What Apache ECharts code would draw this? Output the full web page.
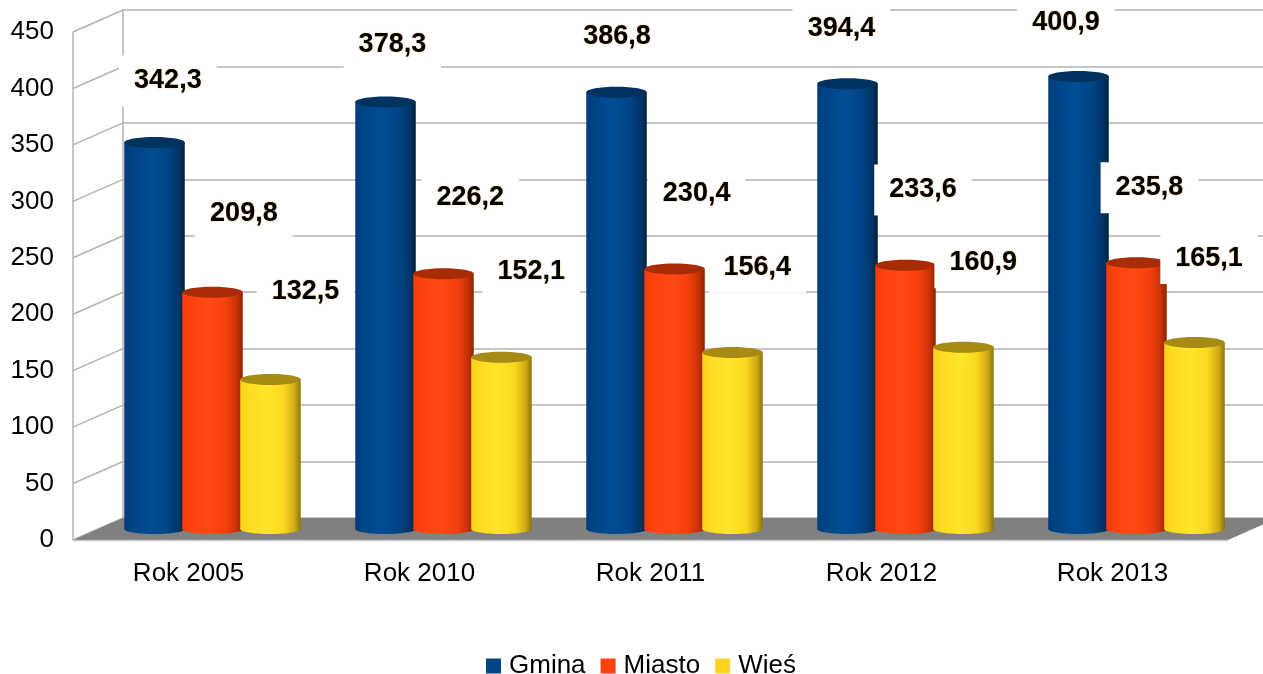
<!DOCTYPE html>
<html>
<head>
<meta charset="utf-8">
<script src="https://cdn.jsdelivr.net/npm/echarts@6/dist/echarts.min.js"></script>
<style>html,body{margin:0;padding:0;background:#fff}#c{width:1263px;height:674px}</style>
</head>
<body>
<div id="c"></div>
<script>
const categories = ['Rok 2005', 'Rok 2010', 'Rok 2011', 'Rok 2012', 'Rok 2013'];
const gmina = [342.3, 378.3, 386.8, 394.4, 400.9];
const miasto = [209.8, 226.2, 230.4, 233.6, 235.8];
const wies = [132.5, 152.1, 156.4, 160.9, 165.1];
const seriesNames = ['Gmina', 'Miasto', 'Wieś'];
const yTicks = [0, 50, 100, 150, 200, 250, 300, 350, 400, 450];

const FONT = 'Liberation Sans, Arial, sans-serif';
const DX = 50, DY = -22;
const GRID_COLOR = '#b3b3b3';

const palettes = [
  { base: '#004586', stops: ['#003d78', '#004586', '#004d94', '#004586', '#003566', '#00223f'], top: '#00325f', lblA: 0, lblB: -0.028 },
  { base: '#ff420e', stops: ['#f23c0c', '#ff420e', '#ff4a14', '#f5400d', '#c73205', '#8f2400'], top: '#a82c05', lblA: 23, lblB: -0.02 },
  { base: '#ffd320', stops: ['#f7cf1f', '#ffdb22', '#ffe52a', '#f9d81f', '#cfa915', '#8d7208'], top: '#a68a14', lblA: 27, lblB: -0.022 }
];

function fmt(v) { return v.toFixed(1).replace('.', ','); }

function cylinder(idx) {
  const pal = palettes[idx];
  return function (params, api) {
    const i = api.value(0), v = api.value(1);
    const band = api.size([1, 0])[0];
    const base = api.coord([i, 0]);
    const top = api.coord([i, v]);
    const W = band * 0.262;
    const cx = base[0] + (idx - 1) * band * 0.251;
    const grad = new echarts.graphic.LinearGradient(0, 0, 1, 0, [
      { offset: 0, color: pal.stops[0] },
      { offset: 0.15, color: pal.stops[1] },
      { offset: 0.45, color: pal.stops[2] },
      { offset: 0.72, color: pal.stops[3] },
      { offset: 0.9, color: pal.stops[4] },
      { offset: 1, color: pal.stops[5] }
    ]);
    const half = api.getWidth() / 2;
    const lx = cx + pal.lblA + (cx - half) * pal.lblB;
    const ly = 424 + (top[1] - base[1]) * 0.8876;
    return {
      type: 'group',
      children: [
        { type: 'ellipse', shape: { cx: cx, cy: base[1], rx: W / 2, ry: 5 }, style: { fill: grad }, z2: idx * 10 },
        { type: 'rect', shape: { x: cx - W / 2, y: top[1], width: W, height: base[1] - top[1] }, style: { fill: grad }, z2: idx * 10 + 1 },
        { type: 'ellipse', shape: { cx: cx, cy: top[1], rx: W / 2, ry: 5.5 }, style: { fill: pal.top }, z2: idx * 10 + 2 },
        {
          type: 'text', x: lx, y: ly, z2: 100,
          style: {
            text: fmt(v), font: 'bold 27px ' + FONT, fill: '#000',
            align: 'center', verticalAlign: 'middle',
            backgroundColor: '#fff', padding: [12, 15],
            textShadowColor: 'rgba(215,125,0,0.7)', textShadowBlur: 1.5
          }
        }
      ]
    };
  };
}

const seriesData = [gmina, miasto, wies];

const chart = echarts.init(document.getElementById('c'), null, { renderer: 'canvas' });
const option = {
  animation: false,
  color: palettes.map(p => p.base),
  textStyle: { fontFamily: FONT },
  legend: {
    data: seriesNames,
    icon: 'rect', itemWidth: 15, itemHeight: 15, itemGap: 15,
    top: 648, left: 481,
    textStyle: { fontSize: 26, color: '#000', fontFamily: FONT, padding: [0, 0, 0, 3] }
  },
  grid: [
    { left: 123, top: 10, width: 1155, height: 508 },
    { left: 73, top: 32, width: 1155, height: 508 },
    { left: 97, top: 21, width: 1155, height: 508 }
  ],
  xAxis: [
    { gridIndex: 0, type: 'category', data: categories, show: false },
    { gridIndex: 1, type: 'category', data: categories,
      axisLine: { show: false }, axisTick: { show: false },
      axisLabel: { fontSize: 26, color: '#000', margin: 21, fontFamily: FONT } },
    { gridIndex: 2, type: 'category', data: categories, show: false }
  ],
  yAxis: [
    { gridIndex: 0, type: 'value', min: 0, max: 450, interval: 50,
      axisLabel: { show: false }, axisTick: { show: false },
      axisLine: { show: true, lineStyle: { color: GRID_COLOR, width: 1.5 } },
      splitLine: { show: true, lineStyle: { color: GRID_COLOR, width: 1.5 } } },
    { gridIndex: 1, type: 'value', min: 0, max: 450, interval: 50,
      axisLabel: { fontSize: 26, color: '#000', margin: 19, fontFamily: FONT },
      axisTick: { show: false },
      axisLine: { show: true, lineStyle: { color: GRID_COLOR, width: 1.5 } },
      splitLine: { show: false } },
    { gridIndex: 2, type: 'value', min: 0, max: 450, show: false, splitLine: { show: false } }
  ],
  series: [
    {
      type: 'custom', name: 'sidewall', xAxisIndex: 1, yAxisIndex: 1, silent: true, z: 1,
      data: yTicks.map(v => [0, v]),
      renderItem: function (params, api) {
        const cs = params.coordSys;
        const p = api.coord([0, api.value(1)]);
        return { type: 'line', shape: { x1: cs.x, y1: p[1], x2: cs.x + DX, y2: p[1] + DY },
          style: { stroke: GRID_COLOR, lineWidth: 1.5 } };
      }
    },
    {
      type: 'custom', name: 'floor', xAxisIndex: 1, yAxisIndex: 1, silent: true, z: 1,
      data: [[0, yTicks[0]]],
      renderItem: function (params, api) {
        const cs = params.coordSys;
        const y0 = api.coord([0, api.value(1)])[1];
        return { type: 'group', children: [
          { type: 'polygon', shape: { points: [[cs.x, y0], [cs.x + cs.width, y0], [cs.x + cs.width + DX, y0 + DY], [cs.x + DX, y0 + DY]] },
            style: { fill: '#808080' } },
          { type: 'line', shape: { x1: cs.x, y1: y0 + 0.5, x2: cs.x + cs.width, y2: y0 + 0.5 },
            style: { stroke: '#c8c8c8', lineWidth: 1.5 } }
        ] };
      }
    }
  ].concat(seriesData.map((arr, idx) => ({
    type: 'custom', name: seriesNames[idx], xAxisIndex: 2, yAxisIndex: 2, z: 3,
    itemStyle: { color: palettes[idx].base },
    data: arr.map((v, i) => [i, v]),
    encode: { x: 0, y: 1 },
    renderItem: cylinder(idx)
  })))
};
chart.setOption(option);
</script>
</body>
</html>
